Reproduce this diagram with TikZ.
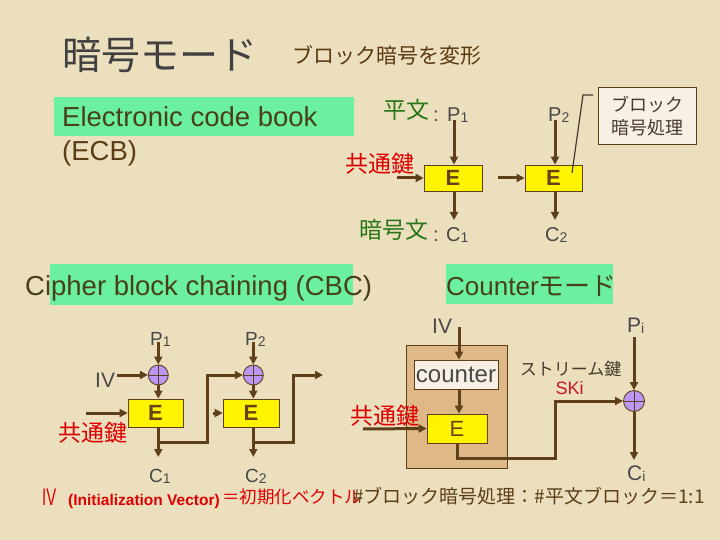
\documentclass[tikz,border=0pt]{standalone}
\usepackage{fontspec}
\setmainfont{Liberation Sans}
\newfontfamily\jp{Noto Sans CJK JP}
\usetikzlibrary{arrows.meta,calc}
\definecolor{bg}{RGB}{236,223,190}
\definecolor{lbrown}{RGB}{96,64,26}
\definecolor{dbrown}{RGB}{92,62,22}
\definecolor{olive}{RGB}{72,64,28}
\definecolor{tgray}{RGB}{64,64,64}
\definecolor{sbrown}{RGB}{90,56,16}
\definecolor{jgreen}{RGB}{38,118,22}
\definecolor{lgray}{RGB}{72,72,72}
\definecolor{kred}{RGB}{222,0,0}
\definecolor{skred}{RGB}{200,20,40}
\definecolor{mint}{RGB}{106,240,160}
\definecolor{eyellow}{RGB}{255,244,0}
\definecolor{ebrown}{RGB}{100,66,20}
\definecolor{xorpurple}{RGB}{186,150,245}
\definecolor{tanc}{RGB}{222,184,135}
\definecolor{paper}{RGB}{248,240,228}
\definecolor{dgray}{RGB}{70,58,44}
\newcommand\fsz[1]{\fontsize{#1}{#1}\selectfont}
\newcommand\sbs[1]{\raisebox{-1pt}{\fsz{14}#1}}
\begin{document}
\begin{tikzpicture}[x=1pt,y=-1pt,
  txt/.style={inner sep=0pt, anchor=base west},
  arr/.style={draw=lbrown, line width=3pt, -{Triangle[length=8pt,width=8pt]}},
  ebox/.style={draw=lbrown, line width=0.7pt, fill=eyellow, inner sep=0pt, font=\fsz{22}\bfseries, text=ebrown},
  xor/.style={circle, draw=lbrown, line width=0.9pt, fill=xorpurple, minimum size=20pt, inner sep=0pt,
    path picture={\draw[lbrown, line width=0.9pt] (path picture bounding box.north) -- (path picture bounding box.south) (path picture bounding box.west) -- (path picture bounding box.east);}},
  gbox/.style={fill=mint, inner sep=0pt, anchor=north west},
]
\fill[bg] (0,0) rectangle (720,540);
\useasboundingbox (0,0) rectangle (720,540);

% title
\node[font=\jp\fsz{39}, text=tgray, inner sep=0pt] (title) at (160,55) {暗号モード};
\node[font=\jp\fsz{21}, text=sbrown, inner sep=0pt] (sub) at (387,55) {ブロック暗号を変形};

% ECB
\node[gbox, minimum width=300pt, minimum height=39pt] (ecbbg) at (54,97) {};
\node[txt, text=olive, font=\fsz{27.5}] (ecb1) at (62,127) {Electronic code book};
\node[txt, text=dbrown, font=\fsz{27.5}] (ecb2) at (62,161) {(ECB)};

\node[txt, text=jgreen, font=\jp\fsz{23}] (hira) at (383,119) {平文};
\node[txt, text=lgray, font=\fsz{20}] (col1) at (433,122) {:};
\node[txt, text=lgray, font=\fsz{20}] (p1) at (447,122) {P\sbs{1}};
\node[txt, text=lgray, font=\fsz{20}] (p2) at (548,122) {P\sbs{2}};

\node[ebox, minimum width=58pt, minimum height=26pt] (e1) at (453,178) {E};
\node[ebox, minimum width=57pt, minimum height=26pt] (e2) at (553.5,178) {E};
\node[text=kred, font=\jp\fsz{23}, inner sep=0pt] (key1) at (380,164) {共通鍵};

\node[txt, text=jgreen, font=\jp\fsz{23}] (ango) at (359,239) {暗号文};
\node[txt, text=lgray, font=\fsz{20}] (col2) at (433,241) {:};
\node[txt, text=lgray, font=\fsz{20}] (c1) at (446,241) {C\sbs{1}};
\node[txt, text=lgray, font=\fsz{20}] (c2) at (545,241) {C\sbs{2}};

\coordinate (p1a) at (454,120);
\coordinate (p2a) at (555,120);
\coordinate (k1s) at (397,178);
\coordinate (k2s) at (498,178);
\coordinate (c1a) at (454,220);
\coordinate (c2a) at (555,220);
\draw[arr] (p1a) -- (p1a |- e1.north);
\draw[arr] (p2a) -- (p2a |- e2.north);
\draw[arr] (k1s) -- (e1.west);
\draw[arr] (k2s) -- (e2.west);
\draw[arr] (p1a |- e1.south) -- (c1a);
\draw[arr] (p2a |- e2.south) -- (c2a);

\node[draw=dbrown, line width=1pt, fill=paper, minimum width=98pt, minimum height=57pt, anchor=north west,
  align=center, font=\jp\fontsize{18}{23.5}\selectfont, text=dgray, inner sep=0pt] (blk) at (598,87) {ブロック\\暗号処理};
\coordinate (cl1) at (593,95);
\coordinate (cl2) at (583,95);
\coordinate (cl3) at (572,173);
\draw[dgray, line width=1.2pt] (cl1) -- (cl2) -- (cl3);

% CBC
\node[gbox, minimum width=303pt, minimum height=41pt] (cbcbg) at (50,264) {};
\node[txt, text=olive, font=\fsz{27.5}] (cbc) at (25,295) {Cipher block chaining (CBC)};
\node[txt, text=lgray, font=\fsz{19}] (cp1) at (150,345) {P\sbs{1}};
\node[txt, text=lgray, font=\fsz{19}] (cp2) at (245,345) {P\sbs{2}};
\node[xor] (x1) at (158.3,375) {};
\node[xor] (x2) at (253.3,375) {};
\node[txt, text=lgray, font=\fsz{21}] (civ) at (95,387) {IV};
\node[ebox, minimum width=55pt, minimum height=28pt] (ce1) at (155.5,413) {E};
\node[ebox, minimum width=56pt, minimum height=28pt] (ce2) at (251,413) {E};
\node[text=kred, font=\jp\fsz{23}, inner sep=0pt] (key2) at (93,433) {共通鍵};
\node[txt, text=lgray, font=\fsz{19}] (cc1) at (149,482) {C\sbs{1}};
\node[txt, text=lgray, font=\fsz{19}] (cc2) at (245,482) {C\sbs{2}};

\coordinate (cp1a) at (158.3,342);
\coordinate (cp2a) at (253.3,342);
\coordinate (civa) at (117,375);
\coordinate (ck1) at (86,413);
\coordinate (ck2) at (213,413);
\coordinate (cj1) at (158.3,442);
\coordinate (cj2) at (253.3,442);
\coordinate (cb1) at (207,375);
\coordinate (cb2) at (293,375);
\coordinate (cend) at (323,375);
\coordinate (cc1a) at (158.3,457);
\coordinate (cc2a) at (253.3,457);
\draw[arr] (cp1a) -- (x1.north);
\draw[arr] (cp2a) -- (x2.north);
\draw[arr] (civa) -- (x1.west);
\draw[arr] (x1.south) -- (x1.south |- ce1.north);
\draw[arr] (x2.south) -- (x2.south |- ce2.north);
\draw[arr] (ck1) -- (ce1.west);
\draw[arr] (ck2) -- (ce2.west);
\draw[arr] (x1.south |- ce1.south) -- (cc1a);
\draw[arr] (x2.south |- ce2.south) -- (cc2a);
\draw[arr] (cj1) -| (cb1) -- (x2.west);
\draw[arr] (cj2) -| (cb2) -- (cend);

% Counter
\node[gbox, minimum width=167pt, minimum height=40pt] (ctrbg) at (446,264) {};
\node[txt, text=olive, font=\fsz{26}] (ctrt) at (446,295) {Counter{\jp モード}};
\node[txt, text=lgray, font=\fsz{21}] (tiv) at (432,333) {IV};
\node[draw=dbrown, line width=1pt, fill=tanc, minimum width=101pt, minimum height=123pt, anchor=north west, inner sep=0pt] (tanbox) at (406,345) {};
\node[draw=dbrown, line width=0.8pt, fill=paper, minimum width=84pt, minimum height=29pt, font=\fsz{24}, text=lgray, inner sep=0pt] (ctr) at (456,374.5) {counter};
\node[ebox, font=\fsz{22}, minimum width=60pt, minimum height=29pt] (te) at (457,428.5) {E};
\node[text=kred, font=\jp\fsz{23}, inner sep=0pt] (key3) at (385,416) {共通鍵};
\node[xor, minimum size=21pt] (x3) at (634,401) {};
\node[txt, text=lgray, font=\fsz{21}] (pi) at (627,332) {P\sbs{i}};
\node[txt, text=lgray, font=\fsz{21}] (ci) at (627,480) {C\sbs{i}};
\node[text=dgray, font=\jp\fsz{17}, inner sep=0pt] (stream) at (570.5,369) {ストリーム鍵};
\node[text=skred, font=\fsz{18}, inner sep=0pt] (ski) at (569.5,388) {SKi};

\coordinate (iva) at (459,327);
\coordinate (kk) at (363,429);
\coordinate (co1) at (555,458);
\coordinate (pia) at (634,337);
\coordinate (cia) at (634,460);
\draw[arr] (iva) -- (iva |- ctr.north);
\draw[arr] (iva |- ctr.south) -- (iva |- te.north);
\draw[arr] (kk) -- (te.west);
\draw[arr] (te.south) |- (co1) |- (x3.west);
\draw[arr] (pia) -- (x3.north);
\draw[arr] (x3.south) -- (cia);

% bottom line
\node[txt, text=kred, font=\fsz{24}] (b1) at (42,505) {\scalebox{0.62}[1]{IV}};
\node[txt, text=kred, font=\fsz{15.5}\bfseries] (b2) at (68,505) {(Initialization Vector)};
\node[txt, text=kred, font=\jp\fsz{17.5}] (b3) at (222,503) {＝初期化ベクトル};
\node[txt, text=dbrown, font=\jp\fsz{19}] (b4) at (353,503) {\#ブロック暗号処理：\#平文ブロック＝1:1};
\end{tikzpicture}
\end{document}
